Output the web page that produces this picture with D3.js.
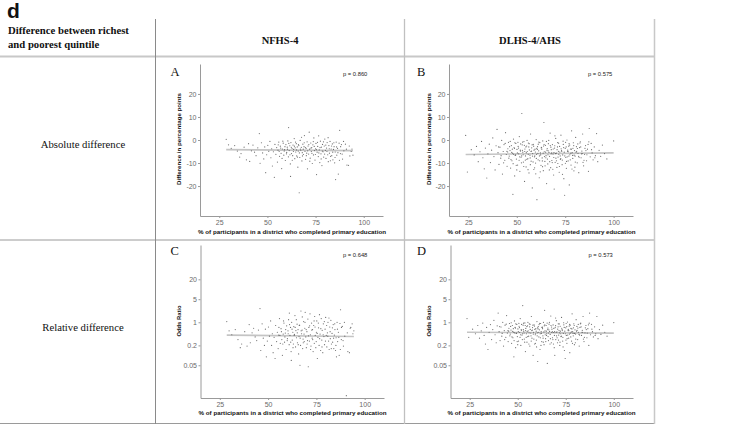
<!DOCTYPE html>
<html>
<head>
<meta charset="utf-8">
<script src="https://cdn.jsdelivr.net/npm/d3@7"></script>
<style>
  html, body { margin: 0; padding: 0; background: #fff; }
  svg { display: block; }
</style>
</head>
<body>
<script>
// ---------------- DATA ----------------
const columnHeaders = ["NFHS-4", "DLHS-4/AHS"];
const rowLabels = ["Absolute difference", "Relative difference"];
const panelLetters = ["A", "B", "C", "D"];
const pValues = ["p = 0.860", "p = 0.575", "p = 0.648", "p = 0.573"];
const xTicks = [25, 50, 75, 100];
const absTicks = [-20, -10, 0, 10, 20];
const orTicks = [0.05, 0.2, 1, 5, 20];
const orTickLabels = ["0.05", "0.2", "1", "5", "20"];
const xTitle = "% of participants in a district who completed primary education";
const absTitle = "Difference in percentage points";
const orTitle = "Odds Ratio";

// Panel A: NFHS-4, absolute difference [education %, difference pp]
const nfhsAbs = [[28.6,0.3],[29.8,-2.1],[31.2,-3.6],[33.0,-2.4],[34.4,-4.8],[35.6,-7.4],[36.3,-5.9],[37.9,-3.1],[39.1,-8.6],[40.2,-1.6],[40.8,-9.3],[41.7,-4.7],[42.5,-2.2],[43.3,-5.3],[44.1,-6.8],[45.0,-3.4],[45.8,2.8],[46.2,-10.1],[46.9,-1.2],[47.5,-5.6],[48.1,-8.2],[48.6,-3.0],[49.1,-14.2],[49.6,-6.4],[50.2,-2.3],[50.7,-4.9],[51.3,-0.6],[51.8,-7.7],[52.2,-3.8],[52.6,-11.3],[53.1,-5.1],[53.6,-16.2],[53.9,-1.9],[54.4,-6.2],[54.8,-3.3],[55.2,-9.6],[55.5,-4.4],[55.9,-0.9],[56.3,-7.1],[56.7,-2.7],[57.1,-5.8],[57.4,-12.4],[57.8,-3.9],[58.2,-1.4],[58.5,-6.6],[58.9,-4.2],[59.3,-8.9],[59.6,-2.0],[60.0,-5.4],[60.3,-3.1],[60.6,-0.4],[60.9,-7.3],[61.0,5.4],[61.3,-4.6],[61.6,-2.5],[61.9,-10.4],[62.0,-15.8],[62.2,-1.1],[62.5,-5.9],[62.8,-3.7],[63.1,-6.8],[63.3,-2.2],[63.6,-4.1],[63.9,0.6],[64.2,-8.1],[64.4,-3.4],[64.7,-5.2],[65.0,-1.6],[65.2,-6.9],[65.5,-3.0],[65.8,-11.8],[66.0,-4.8],[66.3,-2.4],[66.5,-22.9],[66.8,-7.6],[67.0,-0.2],[67.3,-4.4],[67.6,-3.2],[67.9,-9.1],[68.1,-5.5],[68.4,-1.8],[68.7,-6.3],[69.0,-2.9],[69.2,1.9],[69.5,-4.9],[69.8,-8.4],[70.1,-3.6],[70.4,-5.7],[70.6,-0.8],[70.8,-12.5],[71.1,-2.6],[71.4,-6.1],[71.7,3.4],[71.9,-4.0],[72.2,-7.9],[72.5,-1.3],[72.8,-5.0],[73.0,-3.3],[73.3,-10.2],[73.6,-2.1],[73.9,-6.5],[74.1,0.9],[74.4,-4.6],[74.7,-8.7],[75.0,-3.8],[75.2,-1.5],[75.5,-15.0],[75.8,-5.3],[76.1,-2.8],[76.4,-7.2],[76.6,1.8],[76.9,-4.3],[77.2,-9.8],[77.5,-0.5],[77.8,-6.0],[78.0,-3.1],[78.3,-11.1],[78.6,-1.9],[78.9,-5.1],[79.2,-7.4],[79.5,-2.6],[79.8,0.4],[80.1,-4.5],[80.4,-8.0],[80.7,-3.5],[81.0,-1.1],[81.3,-6.4],[81.6,-9.4],[81.9,-2.4],[82.2,-5.7],[82.5,-0.6],[82.8,-7.1],[83.1,-3.9],[83.4,-6.8],[83.7,-1.7],[84.0,-8.6],[84.3,-4.1],[84.6,-2.9],[84.9,-9.9],[85.2,-5.2],[85.4,-17.2],[85.7,-0.9],[86.0,-6.6],[86.4,-3.6],[86.8,-14.8],[87.2,-1.4],[87.5,4.2],[87.9,-5.9],[88.4,-2.0],[89.0,-8.3],[89.7,-4.7],[90.5,-1.8],[91.3,-10.9],[92.1,-11.0],[92.8,-6.9],[93.5,-5.0],[94.4,-6.6],[93.9,-3.9],
[55.6,-2.1],[56.1,-5.0],[56.9,-3.5],[57.6,-8.0],[58.0,-0.5],[58.7,-4.8],[59.1,-2.9],[59.9,-6.0],[60.4,-4.0],[61.1,-1.5],[61.7,-6.4],[62.4,-3.2],[62.9,-8.8],[63.5,-5.0],[64.0,-2.7],[64.6,-0.9],[65.1,-4.3],[65.6,-7.4],[66.1,-2.0],[66.6,-5.6],[67.1,-3.9],[67.7,1.2],[68.2,-6.9],[68.6,-4.0],[69.1,-1.2],[69.7,-3.3],[70.2,-6.8],[70.9,-4.7],[71.5,-2.0],[72.0,-9.2],[72.6,-3.5],[73.1,-5.8],[73.8,-0.7],[74.3,-2.8],[74.9,-6.3],[75.4,-4.2],[76.0,-1.0],[76.7,-5.6],[77.3,-3.3],[77.9,-8.2],[78.5,-4.8],[79.1,-0.8],[79.7,-6.1],[80.3,-2.2],[80.9,-5.0],[81.5,1.0],[82.1,-3.8],[82.7,-9.0],[83.3,-2.6],[83.9,-5.3],[84.5,-1.2],[85.1,-7.6],[85.9,-3.0],[86.6,-5.5],[87.4,-8.8],[88.0,-2.9],[88.8,-6.1],[89.5,-0.6],[91.0,-4.0],[92.5,-2.6]];

// Panel C: NFHS-4, relative difference [education %, odds ratio]
const nfhsOR = [[28.6,1.05],[29.8,0.55],[31.2,0.42],[33.0,0.6],[34.4,0.3],[35.6,0.17],[36.3,0.22],[37.9,0.52],[39.1,0.19],[40.2,0.85],[40.8,0.24],[41.7,0.48],[42.5,0.66],[43.3,0.36],[44.1,0.28],[45.0,0.58],[45.8,2.6],[46.2,0.14],[46.9,0.9],[47.5,0.33],[48.1,0.2],[48.6,0.62],[49.1,0.09],[49.6,0.27],[50.2,0.72],[50.7,0.38],[51.3,1.1],[51.8,0.2],[52.2,0.45],[52.6,0.12],[53.1,0.35],[53.6,0.08],[53.9,0.8],[54.4,0.26],[54.8,0.5],[55.2,0.16],[55.5,0.41],[55.9,1.3],[56.3,0.23],[56.7,0.64],[57.1,0.3],[57.4,0.1],[57.8,0.44],[58.2,0.95],[58.5,0.25],[58.9,0.47],[59.3,0.15],[59.6,0.78],[60.0,0.32],[60.3,0.55],[60.6,1.2],[60.9,0.21],[61.0,1.9],[61.3,0.4],[61.6,0.7],[61.9,0.13],[62.0,0.07],[62.2,1.0],[62.5,0.29],[62.8,0.5],[63.1,0.22],[63.3,0.74],[63.6,0.43],[63.9,1.6],[64.2,0.18],[64.4,0.56],[64.7,0.34],[65.0,0.88],[65.2,0.24],[65.5,0.6],[65.8,0.11],[66.0,0.37],[66.3,0.82],[66.5,0.05],[66.8,0.2],[67.0,2.2],[67.3,0.45],[67.6,0.58],[67.9,0.16],[68.1,0.31],[68.4,1.05],[68.7,0.26],[69.0,0.66],[69.2,2.0],[69.5,0.36],[69.8,0.17],[70.1,0.52],[70.4,0.28],[70.6,1.25],[70.8,0.045],[71.1,0.7],[71.4,0.27],[71.7,1.8],[71.9,0.42],[72.2,0.19],[72.5,0.95],[72.8,0.33],[73.0,0.6],[73.3,0.13],[73.6,0.8],[73.9,0.23],[74.1,1.5],[74.4,0.4],[74.7,0.17],[75.0,0.5],[75.2,1.1],[75.5,0.08],[75.8,0.35],[76.1,0.68],[76.4,0.2],[76.6,1.7],[76.9,0.44],[77.2,0.14],[77.5,1.3],[77.8,0.29],[78.0,0.57],[78.3,0.12],[78.6,0.9],[78.9,0.37],[79.2,0.21],[79.5,0.62],[79.8,1.4],[80.1,0.4],[80.4,0.18],[80.7,0.48],[81.0,1.0],[81.3,0.27],[81.6,0.15],[81.9,0.72],[82.2,0.32],[82.5,1.15],[82.8,0.22],[83.1,0.46],[83.4,0.25],[83.7,0.85],[84.0,0.16],[84.3,0.41],[84.6,0.6],[84.9,0.14],[85.2,0.34],[85.4,0.09],[85.7,1.0],[86.0,0.26],[86.4,0.5],[86.8,0.1],[87.2,0.92],[87.5,2.4],[87.9,0.3],[88.4,0.75],[89.0,0.19],[89.7,0.38],[90.5,0.006],[91.3,0.13],[92.1,0.12],[92.8,0.7],[93.5,0.9],[94.4,0.55],[93.9,0.45],
[55.6,0.7],[56.1,0.4],[56.9,0.52],[57.6,0.22],[58.0,1.1],[58.7,0.36],[59.1,0.6],[59.9,0.28],[60.4,0.45],[61.1,0.85],[61.7,0.25],[62.4,0.62],[62.9,0.17],[63.5,0.4],[64.0,0.7],[64.6,1.2],[65.1,0.48],[65.6,0.21],[66.1,0.8],[66.6,0.33],[67.1,0.55],[67.7,1.45],[68.2,0.24],[68.6,0.44],[69.1,1.0],[69.7,0.6],[70.2,0.22],[70.9,0.39],[71.5,0.78],[72.0,0.15],[72.6,0.58],[73.1,0.3],[73.8,1.1],[74.3,0.72],[74.9,0.26],[75.4,0.46],[76.0,0.95],[76.7,0.32],[77.3,0.64],[77.9,0.18],[78.5,0.42],[79.1,1.05],[79.7,0.27],[80.3,0.8],[80.9,0.38],[81.5,1.35],[82.1,0.52],[82.7,0.16],[83.3,0.68],[83.9,0.33],[84.5,0.9],[85.1,0.2],[85.9,0.62],[86.6,0.35],[87.4,0.15],[88.0,0.7],[88.8,0.28],[89.5,1.0],[91.0,0.48],[92.5,0.66]];

// Panel B: DLHS-4/AHS, absolute difference
const dlhsAbs = [[23.6,2.0],[24.5,-13.9],[26.5,-4.2],[28.0,-6.5],[29.2,-2.8],[30.1,-9.4],[31.0,-5.1],[31.8,-0.6],[32.5,-7.7],[33.2,-12.5],[33.8,-3.5],[34.5,-16.5],[35.1,-6.0],[35.8,-1.8],[36.4,-9.8],[37.0,-4.4],[37.6,0.9],[38.2,-7.2],[38.8,-13.0],[39.3,-2.5],[39.8,4.6],[40.3,-5.5],[40.8,-10.6],[41.3,-3.1],[41.7,-7.9],[42.2,-0.2],[42.6,-14.8],[43.0,-5.0],[43.4,-2.0],[43.8,-8.8],[44.2,3.2],[44.6,-6.3],[45.0,-11.4],[45.4,-3.8],[45.7,-1.0],[46.1,-7.0],[46.5,-4.6],[46.8,-12.2],[47.2,-2.4],[47.5,-9.0],[47.9,-5.8],[48.0,-23.6],[48.3,0.4],[48.6,-3.3],[48.9,-15.6],[49.2,-6.7],[49.5,-1.5],[49.8,-8.3],[50.1,-4.1],[50.4,-10.9],[50.7,-2.8],[51.0,-6.0],[51.3,1.5],[51.6,-13.6],[51.9,-4.8],[52.2,-7.5],[52.6,11.5],[52.8,-2.1],[53.1,-5.3],[53.4,-9.6],[53.7,-0.7],[54.0,-18.0],[54.2,-3.9],[54.5,-6.9],[54.8,-11.7],[55.1,-2.6],[55.4,-5.0],[55.7,-8.1],[56.0,-1.3],[56.3,-14.3],[56.5,-4.3],[56.8,-6.6],[57.1,2.6],[57.4,-9.2],[57.7,-3.4],[58.0,-20.8],[58.2,-5.9],[58.5,-1.9],[58.8,-12.8],[59.1,-7.3],[59.4,-4.0],[59.7,-10.0],[60.0,0.2],[60.2,-6.2],[60.4,-25.9],[60.7,-2.9],[61.0,-8.6],[61.3,-4.7],[61.6,-16.4],[61.9,-1.1],[62.2,-5.6],[62.5,-11.0],[62.8,-3.2],[63.1,-7.8],[63.4,-0.4],[63.7,-13.3],[64.0,7.6],[64.2,-5.1],[64.5,-9.3],[64.8,-2.3],[65.1,-6.8],[65.4,-18.9],[65.7,-3.7],[66.0,-10.4],[66.3,-1.6],[66.6,-5.4],[66.9,-7.1],[67.2,3.0],[67.5,-12.0],[67.8,-4.2],[68.1,-8.9],[68.4,-2.0],[68.7,-6.1],[69.0,-15.2],[69.3,-21.3],[69.5,-3.5],[69.8,-9.7],[70.1,0.7],[70.4,-5.7],[70.7,-11.9],[71.0,-3.0],[71.3,-7.4],[71.6,-1.4],[71.9,-14.0],[72.2,-5.2],[72.5,-8.4],[72.8,2.1],[73.1,-4.5],[73.4,-10.7],[73.7,-6.5],[74.0,-1.9],[74.3,-16.8],[74.7,-24.0],[75.0,-3.6],[75.3,-7.6],[75.6,-12.3],[75.9,0.0],[76.2,-5.0],[76.5,-9.1],[76.8,-2.7],[77.1,-19.5],[77.4,-6.4],[77.7,-3.9],[78.0,-10.9],[78.3,4.0],[78.6,-5.5],[78.9,-8.0],[79.2,-1.2],[79.5,-13.4],[79.8,-4.6],[80.1,-7.0],[80.4,1.1],[80.8,-2.9],[81.2,-9.9],[81.6,-5.8],[82.0,-14.2],[82.4,-3.3],[82.8,-0.8],[83.2,-7.7],[83.6,-4.8],[84.0,2.6],[84.5,-11.2],[85.0,-6.3],[85.5,-2.4],[86.0,-9.0],[86.5,-4.0],[87.0,-13.6],[87.4,5.0],[87.9,-7.3],[88.4,-1.5],[88.9,-5.6],[89.4,-8.6],[90.0,-3.0],[90.6,-6.8],[91.2,2.8],[91.8,-9.4],[92.5,-4.5],[93.3,-7.1],[94.2,-2.2],[95.3,-5.9],[96.5,-8.2],[100.0,-0.4],
[45.3,-5.2],[46.3,-2.9],[47.0,-8.5],[47.7,-4.0],[48.4,-6.2],[49.0,-1.2],[49.7,-11.0],[50.3,-5.6],[50.9,-3.5],[51.5,-7.3],[52.0,-1.7],[52.4,-9.9],[52.9,-4.5],[53.3,-6.4],[53.9,-2.3],[54.4,-8.7],[54.9,-5.5],[55.3,-0.2],[55.8,-12.9],[56.2,-3.0],[56.9,-7.8],[57.3,-5.0],[57.9,-2.1],[58.4,-9.5],[58.9,-4.4],[59.3,-6.9],[59.8,-14.7],[60.3,-3.6],[60.9,-5.8],[61.4,-0.9],[61.8,-9.0],[62.3,-6.5],[62.9,-4.0],[63.3,-11.6],[63.8,-2.6],[64.3,-7.2],[64.9,-5.3],[65.3,-0.6],[65.8,-8.3],[66.2,-4.7],[66.8,-13.0],[67.3,-2.4],[67.7,-6.0],[68.3,-9.8],[68.8,-3.9],[69.2,-5.5],[69.7,1.8],[70.2,-7.9],[70.8,-4.2],[71.2,-10.2],[71.7,-6.2],[72.1,-2.8],[72.7,-8.1],[73.2,-5.0],[73.6,-14.9],[74.2,-3.3],[74.8,-6.9],[75.2,-1.0],[75.7,-9.3],[76.3,-4.4],[76.9,-7.0],[77.3,-2.2],[77.9,-5.7],[78.5,-12.6],[79.0,-3.6],[79.6,-6.6],[80.2,-9.6],[80.9,-4.9],[81.5,-1.7],[82.2,-7.5],[83.0,-3.0],[83.8,-5.9],[84.7,-8.8],[85.7,-4.6],[86.8,-1.9],
[40.6,-3.0],[41.9,-6.8],[43.2,-9.9],[44.0,-1.5],[44.9,-4.9],[45.9,-7.9],[46.6,-0.6],[47.4,-5.4],[48.1,-10.3],[48.8,-3.7],[49.4,-6.5],[50.0,-13.0],[50.6,-1.0],[51.2,-8.8],[51.8,-4.4],[52.5,-6.9],[53.0,-0.9],[53.6,-11.5],[54.1,-5.0],[54.7,-3.0],[55.2,-8.4],[55.9,-6.2],[56.4,-1.6],[57.0,-10.7],[57.6,-4.8],[58.1,-7.0],[58.7,-2.7],[59.2,-12.1],[59.6,-5.2],[60.1,-8.0],[60.6,-4.1],[61.1,-1.8],[61.7,-6.9],[62.1,-13.8],[62.6,-3.4],[63.2,-9.1],[63.6,-5.7],[64.1,-2.0],[64.6,-11.2],[65.0,-7.7],[65.6,-4.4],[66.1,-6.4],[66.5,-0.2],[67.0,-9.4],[67.6,-3.1],[68.0,-5.6],[68.6,-12.7],[69.1,-7.6],[69.6,-2.5],[70.0,-5.9],[70.5,-9.0],[71.1,-1.1],[71.5,-4.9],[72.0,-11.5],[72.4,-6.9],[72.9,-3.8],[73.5,-8.7],[73.9,-0.5],[74.5,-5.3],[75.1,-10.1],[75.5,-3.0],[76.0,-7.3],[76.6,-5.1],[77.0,-1.6],[77.6,-8.6],[78.2,-4.0],[78.8,-6.7],[79.4,-2.4],[80.0,-11.8],[80.6,-5.3],[81.3,-3.7],[81.9,-7.1],[82.6,-1.3],[83.4,-6.0],[84.2,-9.7],[85.2,-3.6],[86.2,-6.4],[87.2,-0.8],[88.6,-4.2],[90.3,-7.7]];

// Panel D: DLHS-4/AHS, relative difference (odds ratio)
const dlhsOR = [[23.6,1.3],[24.5,0.35],[26.5,0.62],[28.0,0.45],[29.2,0.8],[30.1,0.33],[31.0,0.55],[31.8,0.95],[32.5,0.4],[33.2,0.22],[33.8,0.7],[34.5,0.15],[35.1,0.5],[35.8,0.85],[36.4,0.3],[37.0,0.6],[37.6,1.15],[38.2,0.42],[38.8,0.24],[39.3,0.78],[39.8,1.9],[40.3,0.52],[40.8,0.28],[41.3,0.72],[41.7,0.38],[42.2,1.0],[42.6,0.19],[43.0,0.56],[43.4,0.82],[43.8,0.35],[44.2,1.6],[44.6,0.47],[45.0,0.26],[45.4,0.66],[45.7,0.92],[46.1,0.44],[46.5,0.58],[46.8,0.23],[47.2,0.8],[47.5,0.34],[47.9,0.5],[48.0,0.09],[48.3,1.1],[48.6,0.7],[48.9,0.17],[49.2,0.46],[49.5,0.86],[49.8,0.37],[50.1,0.63],[50.4,0.27],[50.7,0.76],[51.0,0.49],[51.3,1.3],[51.6,0.2],[51.9,0.57],[52.2,0.41],[52.6,3.2],[52.8,0.82],[53.1,0.54],[53.4,0.31],[53.7,0.96],[54.0,0.13],[54.2,0.65],[54.5,0.45],[54.8,0.25],[55.1,0.78],[55.4,0.55],[55.7,0.38],[56.0,0.9],[56.3,0.19],[56.5,0.61],[56.8,0.47],[57.1,1.5],[57.4,0.33],[57.7,0.69],[58.0,0.1],[58.2,0.5],[58.5,0.84],[58.8,0.22],[59.1,0.42],[59.4,0.64],[59.7,0.29],[60.0,1.05],[60.2,0.48],[60.4,0.065],[60.7,0.74],[61.0,0.36],[61.3,0.59],[61.6,0.15],[61.9,0.92],[62.2,0.52],[62.5,0.26],[62.8,0.71],[63.1,0.39],[63.4,1.0],[63.7,0.21],[64.0,2.3],[64.2,0.55],[64.5,0.32],[64.8,0.8],[65.1,0.45],[65.4,0.057],[65.7,0.67],[66.0,0.28],[66.3,0.88],[66.6,0.53],[66.9,0.43],[67.2,1.55],[67.5,0.24],[67.8,0.62],[68.1,0.34],[68.4,0.83],[68.7,0.49],[69.0,0.17],[69.3,0.1],[69.5,0.69],[69.8,0.3],[70.1,1.12],[70.4,0.51],[70.7,0.24],[71.0,0.73],[71.3,0.41],[71.6,0.89],[71.9,0.2],[72.2,0.54],[72.5,0.37],[72.8,1.4],[73.1,0.6],[73.4,0.27],[73.7,0.46],[74.0,0.84],[74.3,0.14],[74.7,0.08],[75.0,0.68],[75.3,0.4],[75.6,0.23],[75.9,1.02],[76.2,0.56],[76.5,0.33],[76.8,0.77],[77.1,0.12],[77.4,0.47],[77.7,0.65],[78.0,0.27],[78.3,1.8],[78.6,0.52],[78.9,0.39],[79.2,0.9],[79.5,0.21],[79.8,0.59],[80.1,0.44],[80.4,1.2],[80.8,0.75],[81.2,0.3],[81.6,0.5],[82.0,0.19],[82.4,0.7],[82.8,0.94],[83.2,0.4],[83.6,0.57],[84.0,1.5],[84.5,0.26],[85.0,0.48],[85.5,0.8],[86.0,0.34],[86.5,0.64],[87.0,0.2],[87.4,1.9],[87.9,0.42],[88.4,0.87],[88.9,0.52],[89.4,0.36],[90.0,0.73],[90.6,0.45],[91.2,1.5],[91.8,0.32],[92.5,0.6],[93.3,0.43],[94.2,0.82],[95.3,0.5],[96.5,0.38],[100.0,0.98],
[45.3,0.54],[46.3,0.75],[47.0,0.36],[47.7,0.64],[48.4,0.48],[49.0,0.9],[49.7,0.26],[50.3,0.52],[50.9,0.69],[51.5,0.42],[52.0,0.86],[52.4,0.3],[52.9,0.6],[53.3,0.47],[53.9,0.8],[54.4,0.35],[54.9,0.52],[55.3,1.0],[55.8,0.22],[56.2,0.73],[56.9,0.39],[57.3,0.56],[57.9,0.82],[58.4,0.31],[58.9,0.61],[59.3,0.45],[59.8,0.18],[60.3,0.68],[60.9,0.5],[61.4,0.93],[61.8,0.34],[62.3,0.46],[62.9,0.64],[63.3,0.25],[63.8,0.78],[64.3,0.42],[64.9,0.54],[65.3,0.95],[65.8,0.37],[66.2,0.59],[66.8,0.22],[67.3,0.8],[67.7,0.49],[68.3,0.3],[68.8,0.65],[69.2,0.52],[69.7,1.35],[70.2,0.39],[70.8,0.62],[71.2,0.29],[71.7,0.48],[72.1,0.76],[72.7,0.38],[73.2,0.56],[73.6,0.18],[74.2,0.7],[74.8,0.45],[75.2,0.92],[75.7,0.32],[76.3,0.61],[76.9,0.44],[77.3,0.82],[77.9,0.51],[78.5,0.23],[79.0,0.68],[79.6,0.46],[80.2,0.31],[80.9,0.57],[81.5,0.86],[82.2,0.41],[83.0,0.73],[83.8,0.5],[84.7,0.35],[85.7,0.6],[86.8,0.84],
[40.6,0.74],[41.9,0.46],[43.2,0.3],[44.0,0.88],[44.9,0.56],[45.9,0.39],[46.6,0.97],[47.4,0.53],[48.1,0.28],[48.8,0.67],[49.4,0.47],[50.0,0.21],[50.6,0.93],[51.2,0.35],[51.8,0.6],[52.5,0.45],[53.0,0.94],[53.6,0.25],[54.1,0.56],[54.7,0.74],[55.2,0.37],[55.9,0.48],[56.4,0.87],[57.0,0.27],[57.6,0.58],[58.1,0.44],[58.7,0.77],[59.2,0.23],[59.6,0.54],[60.1,0.39],[60.6,0.63],[61.1,0.85],[61.7,0.45],[62.1,0.2],[62.6,0.7],[63.2,0.33],[63.6,0.51],[64.1,0.83],[64.6,0.26],[65.0,0.4],[65.6,0.6],[66.1,0.47],[66.5,1.0],[67.0,0.32],[67.6,0.72],[68.0,0.52],[68.6,0.22],[69.1,0.4],[69.7,0.79],[70.0,0.5],[70.5,0.34],[71.1,0.9],[71.5,0.56],[72.0,0.25],[72.4,0.45],[72.9,0.66],[73.5,0.35],[73.9,0.97],[74.5,0.54],[75.1,0.29],[75.5,0.74],[76.0,0.41],[76.6,0.56],[77.0,0.87],[77.6,0.36],[78.2,0.63],[78.8,0.46],[79.4,0.8],[80.0,0.24],[80.6,0.54],[81.3,0.67],[81.9,0.43],[82.6,0.9],[83.4,0.5],[84.2,0.31],[85.2,0.68],[86.2,0.47],[87.2,0.94],[88.6,0.62],[90.3,0.4]];

// Fitted regression lines (endpoints)
const fitA = [[28.6,-4.2],[94.4,-4.6]];
const fitB = [[23.6,-6.3],[100,-5.6]];
const fitC = [[28.6,0.41],[94.4,0.37]];
const fitD = [[23.6,0.50],[100,0.47]];

// ---------------- DRAWING ----------------
const W = 742, H = 437;
const SANS = "'Liberation Sans', Arial, Helvetica, sans-serif";
const SERIF = "'Liberation Serif', 'Times New Roman', Times, serif";

const svg = d3.select("body").append("svg").attr("width", W).attr("height", H);

// table grid
const grid = svg.append("g");
grid.append("line").attr("x1", 0).attr("x2", 654).attr("y1", 56.5).attr("y2", 56.5)
  .attr("stroke", "#c8c8c8").attr("stroke-width", 2);
grid.append("line").attr("x1", 0).attr("x2", 654).attr("y1", 240).attr("y2", 240)
  .attr("stroke", "#9a9a9a").attr("stroke-width", 1);
grid.append("line").attr("x1", 0).attr("x2", 654).attr("y1", 423.5).attr("y2", 423.5)
  .attr("stroke", "#9a9a9a").attr("stroke-width", 1);
grid.append("line").attr("x1", 155.5).attr("x2", 155.5).attr("y1", 19).attr("y2", 424)
  .attr("stroke", "#8a8a8a").attr("stroke-width", 1);
grid.append("line").attr("x1", 404.5).attr("x2", 404.5).attr("y1", 19).attr("y2", 424)
  .attr("stroke", "#c0c0c0").attr("stroke-width", 1.3);
grid.append("line").attr("x1", 654.5).attr("x2", 654.5).attr("y1", 19).attr("y2", 424)
  .attr("stroke", "#c8c8c8").attr("stroke-width", 1.5);

// header texts
svg.append("text").attr("x", 7).attr("y", 18).text("d")
  .attr("font-family", SANS).attr("font-weight", "bold").attr("font-size", 21).attr("fill", "#111");
svg.append("text").attr("x", 8).attr("y", 34).text("Difference between richest")
  .attr("font-family", SERIF).attr("font-weight", "bold").attr("font-size", 10.7).attr("fill", "#111");
svg.append("text").attr("x", 8).attr("y", 47.5).text("and poorest quintile")
  .attr("font-family", SERIF).attr("font-weight", "bold").attr("font-size", 10.7).attr("fill", "#111");

const colCenters = [280, 530];
columnHeaders.forEach((t, i) => {
  svg.append("text").attr("x", colCenters[i]).attr("y", 43.5).text(t)
    .attr("text-anchor", "middle").attr("font-family", SERIF).attr("font-weight", "bold")
    .attr("font-size", 10.5).attr("fill", "#111");
});
const rowBaselines = [148, 330.5];
rowLabels.forEach((t, i) => {
  svg.append("text").attr("x", 83).attr("y", rowBaselines[i]).text(t)
    .attr("text-anchor", "middle").attr("font-family", SERIF)
    .attr("font-size", 10.7).attr("fill", "#111");
});

// panels
const panels = [
  { letter: panelLetters[0], p: pValues[0], data: nfhsAbs, fit: fitA, kind: "abs",
    left: 200, right: 383, top: 64, bottom: 216, letterX: 170.5, letterY: 75.5, pX: 343, pY: 76,
    yTitleX: 179, yTitleY: 139, xTitleX: 292, xTitleY: 234 },
  { letter: panelLetters[1], p: pValues[1], data: dlhsAbs, fit: fitB, kind: "abs",
    left: 449, right: 633, top: 64, bottom: 216, letterX: 417, letterY: 75.5, pX: 588, pY: 76,
    yTitleX: 429, yTitleY: 139, xTitleX: 541.5, xTitleY: 234 },
  { letter: panelLetters[2], p: pValues[2], data: nfhsOR, fit: fitC, kind: "or",
    left: 200.5, right: 384, top: 245, bottom: 398, letterX: 170.5, letterY: 255, pX: 343, pY: 257,
    yTitleX: 179, yTitleY: 321, xTitleX: 292.5, xTitleY: 415 },
  { letter: panelLetters[3], p: pValues[3], data: dlhsOR, fit: fitD, kind: "or",
    left: 450.5, right: 633, top: 245, bottom: 398, letterX: 417, letterY: 255, pX: 588.5, pY: 257,
    yTitleX: 429, yTitleY: 321, xTitleX: 541.5, xTitleY: 415 }
];

panels.forEach(P => {
  const g = svg.append("g");
  const x = d3.scaleLinear().domain([15, 110]).range([P.left, P.right]);
  const y = P.kind === "abs"
    ? d3.scaleLinear().domain([-33, 33]).range([P.bottom, P.top])
    : d3.scaleLog().domain([0.0051, 219]).range([P.bottom, P.top]);

  const gx = g.append("g").attr("transform", `translate(0,${P.bottom})`)
    .call(d3.axisBottom(x).tickValues(xTicks).tickSize(2).tickSizeOuter(0).tickPadding(2)
      .tickFormat(d => String(d)));
  const yAxis = d3.axisLeft(y).tickValues(P.kind === "abs" ? absTicks : orTicks)
    .tickSize(2).tickSizeOuter(0).tickPadding(1.5);
  if (P.kind === "abs") yAxis.tickFormat(d => String(d));
  else yAxis.tickFormat((d, i) => orTickLabels[i]);
  const gy = g.append("g").attr("transform", `translate(${P.left},0)`).call(yAxis);

  [gx, gy].forEach(a => {
    a.select(".domain").attr("stroke", "#9a9a9a").attr("stroke-width", 1);
    a.selectAll(".tick line").attr("stroke", "#9a9a9a");
    a.selectAll(".tick text").attr("fill", "#6a6a6a").attr("font-size", 7).attr("font-family", SANS);
  });

  // fit line (under points)
  g.append("path").datum(P.fit)
    .attr("d", d3.line().x(d => x(d[0])).y(d => y(d[1])))
    .attr("stroke", "#c4c4c4").attr("stroke-width", 1.6).attr("fill", "none");

  // points
  g.append("g").selectAll("circle").data(P.data).join("circle")
    .attr("cx", d => x(d[0])).attr("cy", d => y(d[1])).attr("r", 0.6)
    .attr("fill", "#555").attr("fill-opacity", 0.85);

  g.append("text").attr("x", P.letterX).attr("y", P.letterY).text(P.letter)
    .attr("font-family", SERIF).attr("font-size", 12.5).attr("fill", "#111");
  g.append("text").attr("x", P.pX).attr("y", P.pY).text(P.p)
    .attr("font-family", SANS).attr("font-size", 5.8).attr("fill", "#222");
  g.append("text").attr("transform", `translate(${P.yTitleX},${P.yTitleY}) rotate(-90)`)
    .attr("text-anchor", "middle").attr("dy", "0.35em")
    .text(P.kind === "abs" ? absTitle : orTitle)
    .attr("font-family", SANS).attr("font-weight", "bold").attr("font-size", 6)
    .attr("textLength", P.kind === "abs" ? 92 : 31).attr("lengthAdjust", "spacingAndGlyphs")
    .attr("fill", "#111");
  g.append("text").attr("x", P.xTitleX).attr("y", P.xTitleY).attr("text-anchor", "middle")
    .text(xTitle).attr("font-family", SANS).attr("font-weight", "bold").attr("font-size", 6)
    .attr("textLength", 188).attr("lengthAdjust", "spacingAndGlyphs").attr("fill", "#111");
});
</script>
</body>
</html>
